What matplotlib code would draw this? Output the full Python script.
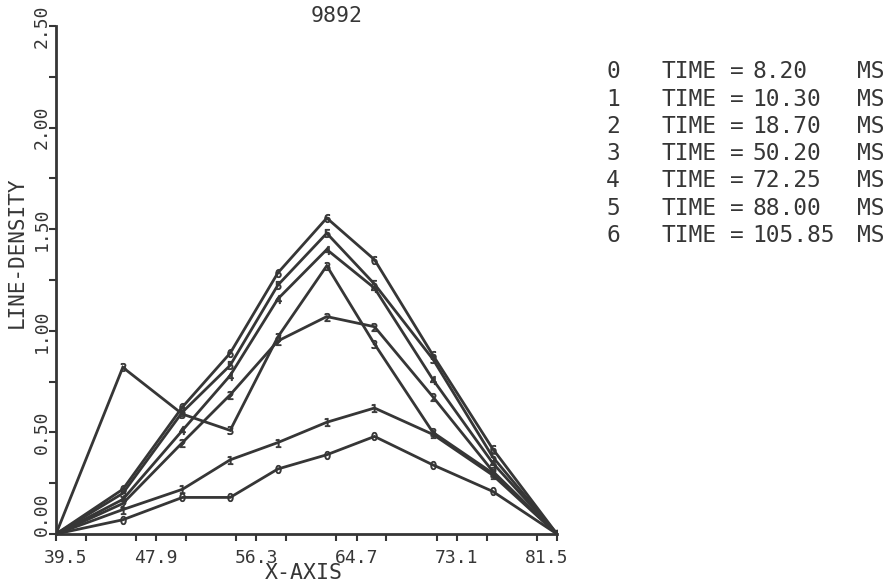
import matplotlib.pyplot as plt
from matplotlib.ticker import MultipleLocator
from matplotlib.transforms import ScaledTranslation

# probe positions along the x-axis
x_pos = [39.5, 45.1, 50.1, 54.1, 58.1, 62.2, 66.2, 71.1, 76.1, 81.5]

# line density per time step
dens_0 = [0, 0.07, 0.18, 0.18, 0.32, 0.39, 0.48, 0.34, 0.21, 0]
dens_1 = [0, 0.12, 0.22, 0.365, 0.45, 0.55, 0.62, 0.49, 0.29, 0]
dens_2 = [0, 0.15, 0.45, 0.685, 0.95, 1.07, 1.02, 0.675, 0.31, 0]
dens_3 = [0, 0.82, 0.59, 0.51, 0.97, 1.32, 0.935, 0.50, 0.30, 0]
dens_4 = [0, 0.17, 0.51, 0.78, 1.157, 1.40, 1.21, 0.76, 0.35, 0]
dens_5 = [0, 0.20, 0.60, 0.83, 1.225, 1.48, 1.23, 0.86, 0.38, 0]
dens_6 = [0, 0.22, 0.625, 0.89, 1.285, 1.555, 1.35, 0.88, 0.42, 0]
series = [dens_0, dens_1, dens_2, dens_3, dens_4, dens_5, dens_6]

times = [8.20, 10.30, 18.70, 50.20, 72.25, 88.00, 105.85]
x_ticks = [39.5, 47.9, 56.3, 64.7, 73.1, 81.5]
y_ticks = [0.0, 0.5, 1.0, 1.5, 2.0, 2.5]

ink = "#363636"
plt.rcParams["font.family"] = "DejaVu Sans Mono"

W, H = 889, 582
fig = plt.figure(figsize=(W / 100, H / 100), dpi=100)
ax = fig.add_axes([56 / W, 1 - 534 / H, (557 - 56) / W, (534 - 26) / H])

for i, d in enumerate(series):
    ax.plot(x_pos, d, color=ink, lw=2.0, marker=f"${i}$", markersize=6,
            markeredgewidth=0.6, markerfacecolor=ink, markeredgecolor=ink,
            solid_joinstyle="miter")

ax.set_xlim(39.5, 81.5)
ax.set_ylim(0, 2.5)
ax.set_xticks(x_ticks)
ax.set_xticklabels([f"{v:.1f}" for v in x_ticks])
ax.xaxis.set_minor_locator(MultipleLocator(4.2))
ax.set_yticks(y_ticks)
ax.set_yticklabels([f"{v:.2f}" for v in y_ticks], rotation=90, va="center")
ax.yaxis.set_minor_locator(MultipleLocator(0.25))

for s in ["top", "right"]:
    ax.spines[s].set_visible(False)
for s in ["left", "bottom"]:
    ax.spines[s].set_color(ink)
    ax.spines[s].set_linewidth(2)

ax.tick_params(which="both", direction="out", color=ink, width=1.5,
               labelcolor=ink, labelsize=13)
ax.tick_params(which="both", length=5)
ax.tick_params(axis="x", which="major", pad=6)
ax.tick_params(axis="y", which="major", pad=-1)
ax.patch.set_visible(False)

# nudge the end labels inward, like the plotter did
xl = ax.get_xticklabels()
xl[0].set_transform(xl[0].get_transform() + ScaledTranslation(0.10, 0, fig.dpi_scale_trans))
xl[-1].set_transform(xl[-1].get_transform() + ScaledTranslation(-0.10, 0, fig.dpi_scale_trans))
yl = ax.get_yticklabels()
yl[0].set_transform(yl[0].get_transform() + ScaledTranslation(0, 0.2, fig.dpi_scale_trans))

fig.text(337 / W, 1 - 16 / H, "9892", ha="center", va="center", color=ink, fontsize=15.5)
fig.text(304 / W, 1 - 573 / H, "X-AXIS", ha="center", va="center", color=ink, fontsize=15.5)
fig.text(17 / W, 1 - 252 / H, "LINE-DENSITY", ha="center", va="center", rotation=90,
         color=ink, fontsize=15)

# legend block on the right
for i, t in enumerate(times):
    yy = 1 - (72 + i * 27.2) / H
    fig.text(613 / W, yy, str(i), ha="center", va="center", color=ink, fontsize=16.5)
    fig.text(662 / W, yy, "TIME", ha="left", va="center", color=ink, fontsize=16.5)
    fig.text(737 / W, yy, "=", ha="center", va="center", color=ink, fontsize=16.5)
    fig.text(752 / W, yy, f"{t:.2f}", ha="left", va="center", color=ink, fontsize=16.5)
    fig.text(857 / W, yy, "MS", ha="left", va="center", color=ink, fontsize=16.5)

fig.savefig("out.png", dpi=100)
